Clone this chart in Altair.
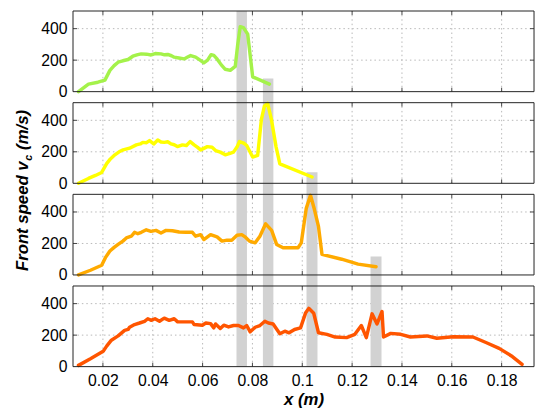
import altair as alt
import pandas as pd

# ---------------- data ----------------
x_ticks = [0.02, 0.04, 0.06, 0.08, 0.10, 0.12, 0.14, 0.16, 0.18]
y_ticks = [0, 200, 400]
series_names = ["s1", "s2", "s3", "s4"]
series_colors = ["#a4f24a", "#ffff00", "#ffaa00", "#ff5500"]

x1 = [0.0102, 0.0142, 0.0180, 0.0208, 0.0228, 0.0245, 0.0261, 0.0280, 0.0301, 0.0320,
      0.0340, 0.0354, 0.0375, 0.0393, 0.0410, 0.0433, 0.0447, 0.0460, 0.0475, 0.0486,
      0.0505, 0.0526, 0.0540, 0.0552, 0.0572, 0.0590, 0.0605, 0.0620, 0.0634, 0.0645,
      0.0658, 0.0675, 0.0691, 0.0711, 0.0731, 0.0741, 0.0751, 0.0764, 0.0781, 0.0801,
      0.0868]
v1 = [0, 48, 60, 73, 135, 165, 187, 196, 204, 225,
      235, 240, 238, 233, 242, 240, 234, 236, 228, 219,
      214, 208, 220, 229, 219, 200, 183, 200, 235, 230,
      208, 170, 142, 135, 160, 300, 412, 406, 365, 94,
      48]

x2 = [0.0102, 0.0142, 0.0170, 0.0195, 0.0215, 0.0230, 0.0248, 0.0265, 0.0281, 0.0307,
      0.0334, 0.0350, 0.0360, 0.0375, 0.0387, 0.0404, 0.0420, 0.0433, 0.0446, 0.0460,
      0.0473, 0.0486, 0.0499, 0.0519, 0.0535, 0.0550, 0.0566, 0.0580, 0.0592, 0.0605,
      0.0619, 0.0638, 0.0652, 0.0671, 0.0691, 0.0710, 0.0724, 0.0738, 0.0748, 0.0765,
      0.0777, 0.0790, 0.0801, 0.0821, 0.0836, 0.0848, 0.0861, 0.0876, 0.0895, 0.0910,
      0.1039]
v2 = [0, 31, 50, 69, 125, 155, 181, 200, 212, 223,
      244, 250, 260, 258, 271, 250, 275, 262, 260, 264,
      250, 245, 233, 244, 240, 265, 244, 228, 212, 222,
      233, 229, 208, 198, 181, 190, 198, 230, 265, 255,
      240, 200, 167, 177, 406, 490, 508, 406, 230, 123,
      40]

x3 = [0.0102, 0.0150, 0.0195, 0.0210, 0.0228, 0.0245, 0.0261, 0.0280, 0.0294, 0.0314,
      0.0327, 0.0340, 0.0354, 0.0374, 0.0393, 0.0413, 0.0433, 0.0453, 0.0479, 0.0506,
      0.0532, 0.0559, 0.0572, 0.0592, 0.0605, 0.0632, 0.0658, 0.0678, 0.0698, 0.0717,
      0.0738, 0.0757, 0.0772, 0.0788, 0.0811, 0.0830, 0.0853, 0.0877, 0.0897, 0.0923,
      0.0983, 0.0996, 0.1016, 0.1033, 0.1048, 0.1065, 0.1079, 0.1158, 0.1224, 0.1296]
v3 = [0, 30, 62, 110, 152, 175, 194, 215, 235, 246,
      271, 262, 271, 287, 277, 283, 267, 283, 281, 273,
      271, 271, 246, 256, 225, 256, 242, 215, 221, 221,
      252, 256, 240, 215, 204, 246, 325, 283, 194, 173,
      173, 204, 423, 506, 420, 308, 131, 100, 69, 52]

x4 = [0.0102, 0.0150, 0.0201, 0.0215, 0.0234, 0.0261, 0.0287, 0.0301, 0.0307, 0.0327,
      0.0347, 0.0367, 0.0380, 0.0393, 0.0409, 0.0427, 0.0446, 0.0466, 0.0486, 0.0500,
      0.0526, 0.0559, 0.0566, 0.0599, 0.0613, 0.0632, 0.0645, 0.0652, 0.0671, 0.0685,
      0.0704, 0.0724, 0.0744, 0.0764, 0.0777, 0.0791, 0.0811, 0.0830, 0.0850, 0.0864,
      0.0883, 0.0910, 0.0930, 0.0947, 0.0969, 0.0993, 0.1013, 0.1026, 0.1046, 0.1065,
      0.1099, 0.1132, 0.1178, 0.1211, 0.1237, 0.1257, 0.1280, 0.1300, 0.1320, 0.1326,
      0.1355, 0.1395, 0.1434, 0.1500, 0.1540, 0.1606, 0.1685, 0.1737, 0.1790, 0.1843,
      0.1882]
v4 = [8, 50, 97, 130, 168, 195, 230, 236, 250, 267,
      277, 288, 304, 294, 304, 288, 308, 294, 304, 284,
      284, 284, 267, 263, 277, 273, 246, 271, 242, 263,
      252, 261, 261, 246, 261, 221, 250, 261, 288, 277,
      271, 209, 225, 215, 236, 246, 340, 370, 339, 215,
      205, 188, 184, 205, 261, 184, 335, 271, 350, 188,
      211, 205, 188, 195, 180, 190, 188, 153, 116, 64,
      14]

# gray bands: x start, x end, panel index (0=top) where band tops out, value of top in that panel
band_x0 = [0.0736, 0.0842, 0.1017, 0.1274]
band_x1 = [0.0778, 0.0884, 0.1061, 0.1318]
band_top_panel = [0, 0, 1, 2]
band_top_value = [512, 83, 71, 117]

# ---------------- layout helpers ----------------
XMIN, XMAX = 0.008, 0.193
PITCH = 582      # vertical offset between stacked panels (data units)
PTOP = 512       # top of each panel
NP = 4
YMAX = PITCH * (NP - 1) + PTOP


def base(panel):  # panel 0 = top
    return (NP - 1 - panel) * PITCH


rows = []
for i, (xs, vs) in enumerate([(x1, v1), (x2, v2), (x3, v3), (x4, v4)]):
    for xx, vv in zip(xs, vs):
        rows.append({"x": xx, "y": vv + base(i), "series": series_names[i]})
lines_df = pd.DataFrame(rows)

bands_df = pd.DataFrame({
    "x": band_x0, "x2": band_x1,
    "y": [0] * 4,
    "y2": [base(p) + v for p, v in zip(band_top_panel, band_top_value)],
})

grid_rows = []
tick_rows = []
tick_len_y = 25
tick_len_x = 0.0016
for p in range(NP):
    b = base(p)
    for xt in x_ticks:
        grid_rows.append({"x": xt, "x2": xt, "y": b, "y2": b + PTOP})
        tick_rows.append({"x": xt, "x2": xt, "y": b, "y2": b + tick_len_y})
        tick_rows.append({"x": xt, "x2": xt, "y": b + PTOP - tick_len_y, "y2": b + PTOP})
    for yt in y_ticks[1:]:
        grid_rows.append({"x": XMIN, "x2": XMAX, "y": b + yt, "y2": b + yt})
        tick_rows.append({"x": XMIN, "x2": XMIN + tick_len_x, "y": b + yt, "y2": b + yt})
        tick_rows.append({"x": XMAX - tick_len_x, "x2": XMAX, "y": b + yt, "y2": b + yt})
grid_df = pd.DataFrame(grid_rows)
ticks_df = pd.DataFrame(tick_rows)

panels_df = pd.DataFrame({
    "x": [XMIN] * NP, "x2": [XMAX] * NP,
    "y": [base(p) for p in range(NP)],
    "y2": [base(p) + PTOP for p in range(NP)],
})

y_axis_values = [base(p) + v for p in range(NP) for v in y_ticks]

FONT = "Liberation Sans"
X_SCALE = alt.Scale(domain=[XMIN, XMAX], nice=False, zero=False)
Y_SCALE = alt.Scale(domain=[0, YMAX], nice=False, zero=False)
X_AXIS = alt.Axis(values=x_ticks, format=".2~f", title="x (m)", grid=False, ticks=False,
                  domain=False, labelPadding=6, titlePadding=3, labelFlush=False,
                  titleFontStyle="italic", titleFontWeight="bold", titleFontSize=17,
                  labelFontSize=16, labelFont=FONT, titleFont=FONT,
                  labelColor="#000000", titleColor="#000000")
Y_AXIS = alt.Axis(values=y_axis_values, labelExpr=f"format(datum.value % {PITCH}, 'd')",
                  title="", grid=False, ticks=False, domain=False, labelPadding=6,
                  labelFontSize=16, labelFont=FONT, labelColor="#000000", labelFlush=False)


def xenc(field="x"):
    return alt.X(f"{field}:Q", scale=X_SCALE, axis=X_AXIS)


def yenc(field="y"):
    return alt.Y(f"{field}:Q", scale=Y_SCALE, axis=Y_AXIS)


grid = alt.Chart(grid_df).mark_rule(color="#b8b8b8", strokeWidth=1, strokeDash=[1.5, 3]).encode(
    x=xenc(), x2="x2:Q", y=yenc(), y2="y2:Q")

bands = alt.Chart(bands_df).mark_rect(color="#d2d2d2").encode(
    x=xenc(), x2="x2:Q", y=yenc(), y2="y2:Q")

lines = alt.Chart(lines_df).mark_line(strokeWidth=3.5, strokeJoin="round", strokeCap="round").encode(
    x=xenc(), y=yenc(),
    color=alt.Color("series:N", scale=alt.Scale(domain=series_names, range=series_colors), legend=None),
)

ticks = alt.Chart(ticks_df).mark_rule(color="#444444", strokeWidth=1).encode(
    x=xenc(), x2="x2:Q", y=yenc(), y2="y2:Q")

panels = alt.Chart(panels_df).mark_rect(fillOpacity=0, stroke="#222222", strokeWidth=1).encode(
    x=xenc(), x2="x2:Q", y=yenc(), y2="y2:Q")

title_a = alt.Chart(pd.DataFrame({"t": ["Front speed v"]})).mark_text(
    angle=270, align="left", baseline="middle", font=FONT, fontSize=17,
    fontStyle="italic", fontWeight="bold", color="#000000"
).encode(x=alt.value(-51), y=alt.value(264), text="t:N")

title_b = alt.Chart(pd.DataFrame({"t": ["c"]})).mark_text(
    angle=270, align="left", baseline="middle", font=FONT, fontSize=11,
    fontStyle="italic", fontWeight="bold", color="#000000"
).encode(x=alt.value(-45), y=alt.value(152), text="t:N")

title_c = alt.Chart(pd.DataFrame({"t": ["(m/s)"]})).mark_text(
    angle=270, align="left", baseline="middle", font=FONT, fontSize=17,
    fontStyle="italic", fontWeight="bold", color="#000000"
).encode(x=alt.value(-51), y=alt.value(141), text="t:N")

chart = alt.layer(grid, bands, lines, ticks, panels, title_a, title_b, title_c).properties(
    width=468, height=361,
    padding={"left": 66, "top": 0, "right": 2, "bottom": 43},
    autosize=alt.AutoSizeParams(type="none"),
    background="#ffffff",
).configure_view(strokeWidth=0)

chart.save("out.html", embed_options={"renderer": "svg", "actions": False})
